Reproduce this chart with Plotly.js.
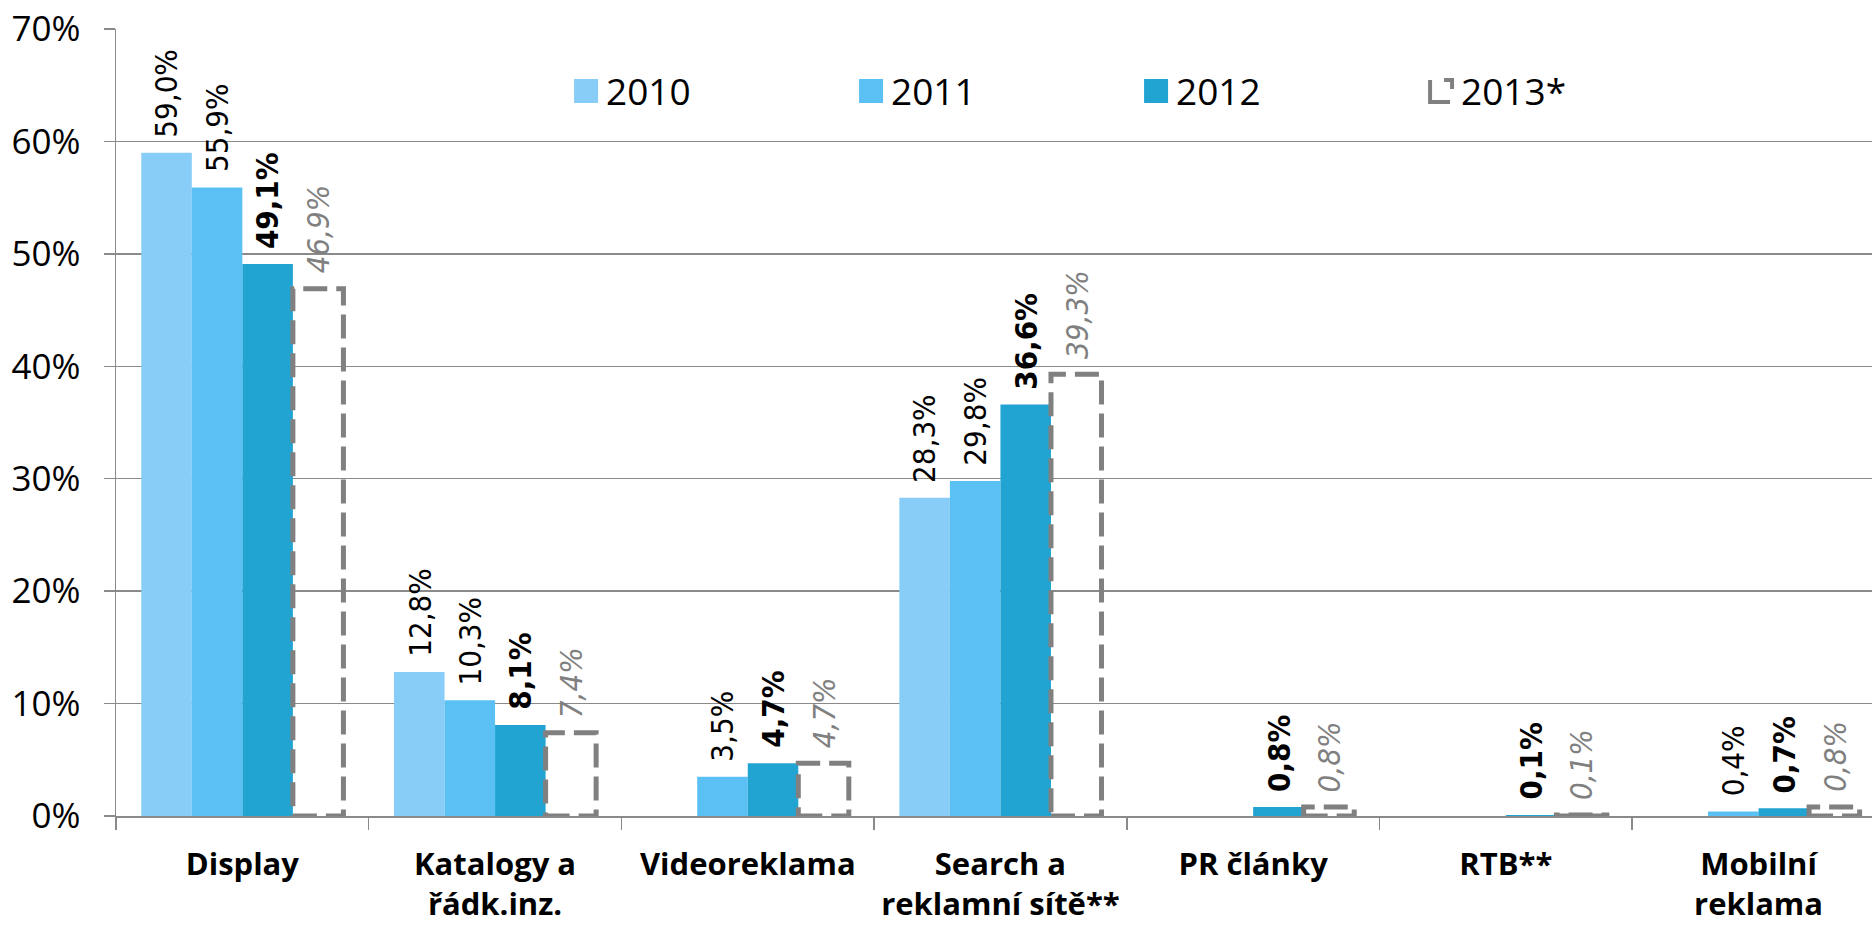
<!DOCTYPE html>
<html>
<head>
<meta charset="utf-8">
<script src="https://cdn.plot.ly/plotly-3.0.1.min.js"></script>
<style>
  html, body { margin: 0; padding: 0; background: #fff; overflow: hidden; }
  #chart { width: 1872px; height: 925px; }
</style>
</head>
<body>
<div id="chart"></div>
<script>
// ---- data ----
const categories = ['Display', 'Katalogy a<br>řádk.inz.', 'Videoreklama', 'Search a<br>reklamní sítě**', 'PR články', 'RTB**', 'Mobilní<br>reklama'];
const seriesNames = ['2010', '2011', '2012', '2013*'];
const v2010 = [59.0, 12.8, null, 28.3, null, null, null];
const v2011 = [55.9, 10.3, 3.5, 29.8, null, null, 0.4];
const v2012 = [49.1, 8.1, 4.7, 36.6, 0.8, 0.1, 0.7];
const v2013 = [46.9, 7.4, 4.7, 39.3, 0.8, 0.1, 0.8];
const yTicks = [0, 10, 20, 30, 40, 50, 60, 70];

// ---- styles ----
const colors = ['#87cdf7', '#5bc1f5', '#22a4d3', 'rgba(0,0,0,0)'];
const gray = '#808080';
const axisGray = '#8a8a8a';
const series = [v2010, v2011, v2012, v2013];
const lblFamily = 'DejaVu Sans Condensed, DejaVu Sans';
const labelFonts = [
  {family: lblFamily, size: 31, color: '#000', weight: 'normal', style: 'normal'},
  {family: lblFamily, size: 31, color: '#000', weight: 'normal', style: 'normal'},
  {family: lblFamily, size: 31, color: '#000', weight: 'bold', style: 'normal'},
  {family: lblFamily, size: 31, color: gray, weight: 'normal', style: 'italic'}
];
const fmt = v => v.toFixed(1).replace('.', ',') + '%';

const traces = series.map((vals, si) => ({
  type: 'bar',
  name: seriesNames[si],
  x: categories,
  y: vals,
  marker: {color: colors[si], line: {width: 0}},
  hoverinfo: 'skip'
}));

const nS = series.length;
const slot = 0.8 / nS;
const annotations = [];
series.forEach((vals, si) => {
  vals.forEach((v, ci) => {
    if (v === null) return;
    annotations.push({
      x: ci + (si - (nS - 1) / 2) * slot,
      y: v,
      xref: 'x', yref: 'y',
      text: fmt(v),
      showarrow: false,
      textangle: -90,
      xanchor: 'center',
      yanchor: 'bottom',
      yshift: 13,
      font: labelFonts[si]
    });
  });
});

// dashed outlines for the 2013 estimate
const shapes = [];
v2013.forEach((v, ci) => {
  if (v === null) return;
  const xc = ci + (3 - (nS - 1) / 2) * slot;
  shapes.push({
    type: 'rect', xref: 'x', yref: 'y',
    x0: xc - slot / 2, x1: xc + slot / 2, y0: 0, y1: v,
    line: {color: gray, width: 5, dash: '24px,9px'},
    fillcolor: 'rgba(0,0,0,0)',
    layer: 'above'
  });
});

const layout = {
  width: 1872, height: 925,
  margin: {l: 116, r: 0, t: 29, b: 109},
  paper_bgcolor: '#fff', plot_bgcolor: '#fff',
  barmode: 'group', bargap: 0.2, bargroupgap: 0,
  showlegend: true,
  legend: {
    orientation: 'h', x: 0.2563, xanchor: 'left', y: 0.9206, yanchor: 'middle',
    bgcolor: 'rgba(0,0,0,0)', font: {family: 'Open Sans', size: 37, color: '#000'},
    entrywidthmode: 'pixels', entrywidth: 240, traceorder: 'normal'
  },
  xaxis: {
    type: 'category',
    range: [-0.5, 6.449],
    tickson: 'boundaries', ticks: 'outside', ticklen: 12, tickcolor: axisGray, tickwidth: 1.5,
    showline: true, linecolor: axisGray, linewidth: 1.5,
    showgrid: false, zeroline: false,
    tickfont: {family: 'Open Sans', size: 31, color: '#000', weight: 'bold'},
    ticklabelstandoff: 20
  },
  yaxis: {
    range: [0, 70],
    tickvals: yTicks, ticktext: yTicks.map(t => t + '%'),
    ticks: 'outside', ticklen: 11, tickcolor: axisGray, tickwidth: 1.5,
    showline: true, linecolor: axisGray, linewidth: 1.5,
    showgrid: true, gridcolor: axisGray, gridwidth: 1.5,
    zeroline: false,
    tickfont: {family: 'Open Sans', size: 35, color: '#000'},
    ticklabelstandoff: 16
  },
  annotations: annotations,
  shapes: shapes
};

function fixLegendIcons(gd) {
  const items = gd.querySelectorAll('g.legend g.traces');
  items.forEach((it, i) => {
    const p = it.querySelector('g.legendpoints path');
    if (!p) return;
    if (i === 3) {
      p.setAttribute('d', 'M-11,-11V11H9M3,-11H11V-2');
      p.style.fill = 'none';
      p.style.stroke = gray;
      p.style.strokeWidth = '4px';
      p.style.strokeOpacity = '1';
    } else {
      p.setAttribute('d', 'M12,12H-12V-12H12Z');
    }
  });
}

const gdiv = document.getElementById('chart');
Plotly.newPlot(gdiv, traces, layout, {staticPlot: true}).then(gd => {
  fixLegendIcons(gd);
  gd.on('plotly_afterplot', () => fixLegendIcons(gd));
  setTimeout(() => fixLegendIcons(gd), 50);
  setTimeout(() => fixLegendIcons(gd), 300);
});
</script>
</body>
</html>
